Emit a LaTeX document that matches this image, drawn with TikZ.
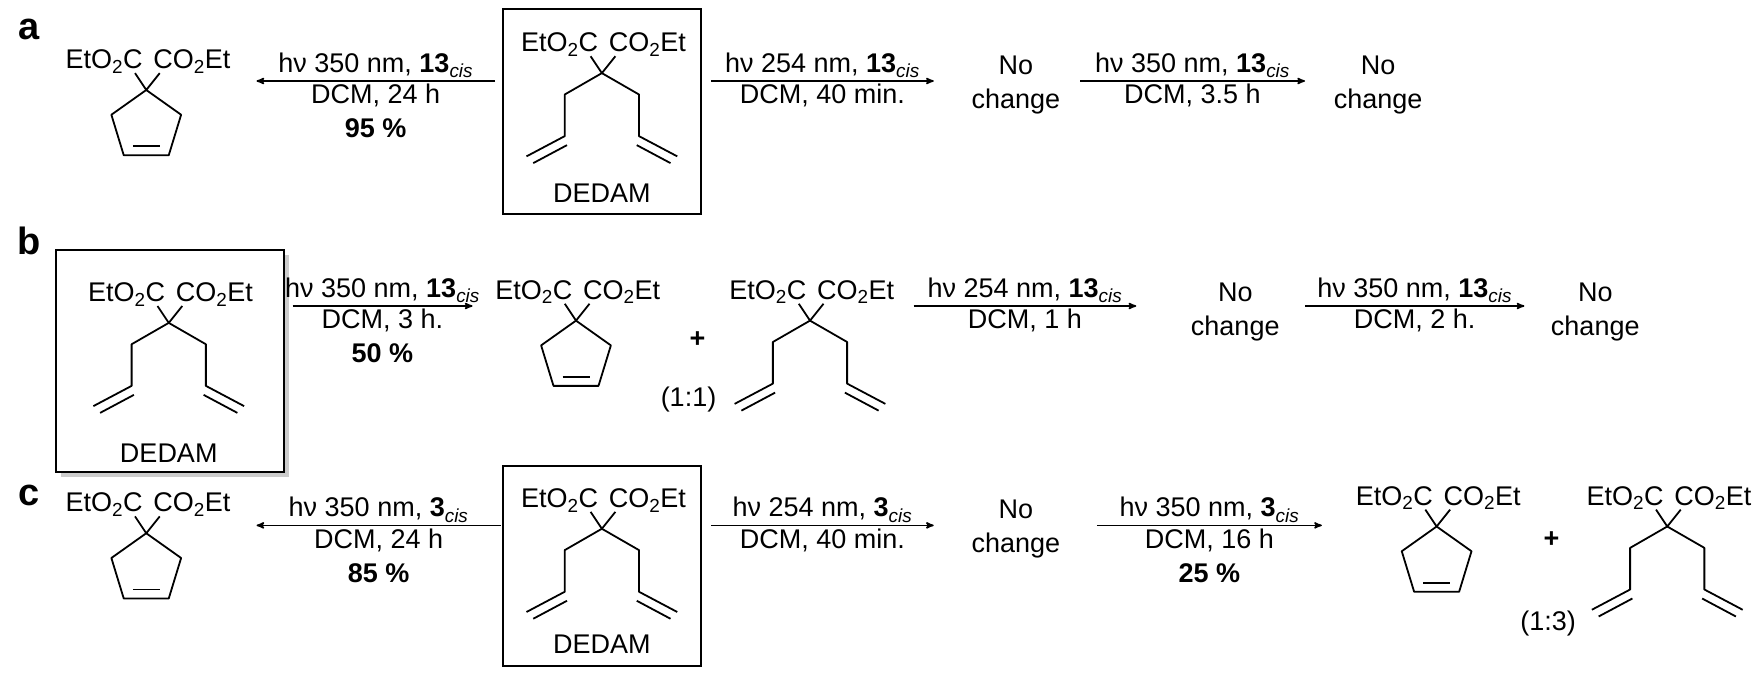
\documentclass[tikz,border=0pt]{standalone}
\usepackage{fontspec}
\setmainfont{Liberation Sans}
\usetikzlibrary{arrows,positioning,shadows}

\newcommand{\etoc}{EtO\textsubscript{2}C}
\newcommand{\coet}{CO\textsubscript{2}Et}

\begin{document}
\begin{tikzpicture}[x=1.125pt,y=-1.125pt,>=stealth',thick,
    bond/.style={line width=1.8pt,line join=round},
    rxn/.style={->,line width=1.6pt},
    lbl/.style={font=\fontsize{27}{34}\selectfont},
    txt/.style={font=\fontsize{27}{30}\selectfont,inner sep=1pt},
    tag/.style={font=\fontsize{38}{42}\selectfont\bfseries,inner sep=0pt},
    dedambox/.style={draw,line width=1.5pt},
    shadowbox/.style={draw,line width=1.5pt,drop shadow={shadow xshift=5pt,shadow yshift=-5pt,fill=black!40}},
    pics/diene/.style={code={
      \draw[bond] (-10,-15) -- (0,0) -- (12,-15);
      \draw[bond] (0,0) -- (-33,19) -- (-33,56) -- (-67,74);
      \draw[bond] (-31,64) -- (-61,80);
      \draw[bond] (0,0) -- (33,19) -- (33,56) -- (67,74);
      \draw[bond] (31,64) -- (61,80);
      \node[txt,anchor=base east] at (-2,-19) {\etoc};
      \node[txt,anchor=base west] at (5,-19) {\coet};}},
    pics/cpent/.style={code={
      \draw[bond] (-10,-15) -- (0,0) -- (12,-15);
      \draw[bond] (0,0) -- (31,22) -- (20,58) -- (-20,58) -- (-31,22) -- cycle;
      \draw[bond] (-12,50) -- (12,50);
      \node[txt,anchor=base east] at (-2,-19) {\etoc};
      \node[txt,anchor=base west] at (5,-19) {\coet};}}]
  \useasboundingbox (0,0) rectangle (1568,603.6);

  % row a
  \node[tag] (taga) at (26,26) {a};
  \pic (prodA) at (130,80) {cpent};
  \node[dedambox,minimum width=198pt,minimum height=205pt] (boxA) at (535,99) {};
  \pic (subA) at (535,65) {diene};
  \node[lbl] (dedamA) at (535,172) {DEDAM};
  \coordinate (a1) at (440,72); \coordinate (a2) at (228,72);
  \draw[rxn] (a1) -- node[lbl,above=-1pt]{hν 350 nm, \textbf{13}\textsubscript{\textit{cis}}}
     node[lbl,below=-1pt,align=center]{DCM, 24 h\\\textbf{95 \%}} (a2);
  \coordinate (a3) at (632,72); \coordinate (a4) at (830,72);
  \draw[rxn] (a3) -- node[lbl,above=-1pt]{hν 254 nm, \textbf{13}\textsubscript{\textit{cis}}}
     node[lbl,below=-1pt]{DCM, 40 min.} (a4);
  \node[lbl,align=center] (ncA1) at (903,76) {No\\change};
  \coordinate (a5) at (960,72); \coordinate (a6) at (1160,72);
  \draw[rxn] (a5) -- node[lbl,above=-1pt]{hν 350 nm, \textbf{13}\textsubscript{\textit{cis}}}
     node[lbl,below=-1pt]{DCM, 3.5 h} (a6);
  \node[lbl,align=center] (ncA2) at (1225,76) {No\\change};

  % row b
  \node[tag] (tagb) at (26,214) {b};
  \node[shadowbox,fill=white,minimum width=228pt,minimum height=222pt] (boxB) at (151,321) {};
  \pic (subB) at (150,287) {diene};
  \node[lbl] (dedamB) at (150,403) {DEDAM};
  \coordinate (b1) at (260,272); \coordinate (b2) at (420,272);
  \draw[rxn] (b1) -- node[lbl,above=-1pt]{hν 350 nm, \textbf{13}\textsubscript{\textit{cis}}}
     node[lbl,below=-1pt,align=center]{DCM, 3 h.\\\textbf{50 \%}} (b2);
  \pic (prodB) at (512,285) {cpent};
  \node[txt] (plusB) at (620,302) {\textbf{+}};
  \pic (restB) at (720,285) {diene};
  \node[lbl] (ratioB) at (612,355) {(1:1)};
  \coordinate (b3) at (812,272); \coordinate (b4) at (1010,272);
  \draw[rxn] (b3) -- node[lbl,above=-1pt]{hν 254 nm, \textbf{13}\textsubscript{\textit{cis}}}
     node[lbl,below=-1pt]{DCM, 1 h} (b4);
  \node[lbl,align=center] (ncB1) at (1098,277) {No\\change};
  \coordinate (b5) at (1160,272); \coordinate (b6) at (1355,272);
  \draw[rxn] (b5) -- node[lbl,above=-1pt]{hν 350 nm, \textbf{13}\textsubscript{\textit{cis}}}
     node[lbl,below=-1pt]{DCM, 2 h.} (b6);
  \node[lbl,align=center] (ncB2) at (1418,277) {No\\change};

  % row c
  \node[tag] (tagc) at (26,440) {c};
  \pic (prodC) at (130,474) {cpent};
  \node[dedambox,minimum width=198pt,minimum height=200pt] (boxC) at (535,503) {};
  \pic (subC) at (535,470) {diene};
  \node[lbl] (dedamC) at (535,573) {DEDAM};
  \coordinate (c1) at (445,467); \coordinate (c2) at (228,467);
  \draw[rxn] (c1) -- node[lbl,above=-1pt]{hν 350 nm, \textbf{3}\textsubscript{\textit{cis}}}
     node[lbl,below=-1pt,align=center]{DCM, 24 h\\\textbf{85 \%}} (c2);
  \coordinate (c3) at (632,467); \coordinate (c4) at (830,467);
  \draw[rxn] (c3) -- node[lbl,above=-1pt]{hν 254 nm, \textbf{3}\textsubscript{\textit{cis}}}
     node[lbl,below=-1pt]{DCM, 40 min.} (c4);
  \node[lbl,align=center] (ncC1) at (903,470) {No\\change};
  \coordinate (c5) at (975,467); \coordinate (c6) at (1175,467);
  \draw[rxn] (c5) -- node[lbl,above=-1pt]{hν 350 nm, \textbf{3}\textsubscript{\textit{cis}}}
     node[lbl,below=-1pt,align=center]{DCM, 16 h\\\textbf{25 \%}} (c6);
  \pic (prodC2) at (1277,468) {cpent};
  \node[txt] (plusC) at (1379,480) {\textbf{+}};
  \pic (restC) at (1482,468) {diene};
  \node[lbl] (ratioC) at (1376,554) {(1:3)};
\end{tikzpicture}
\end{document}
